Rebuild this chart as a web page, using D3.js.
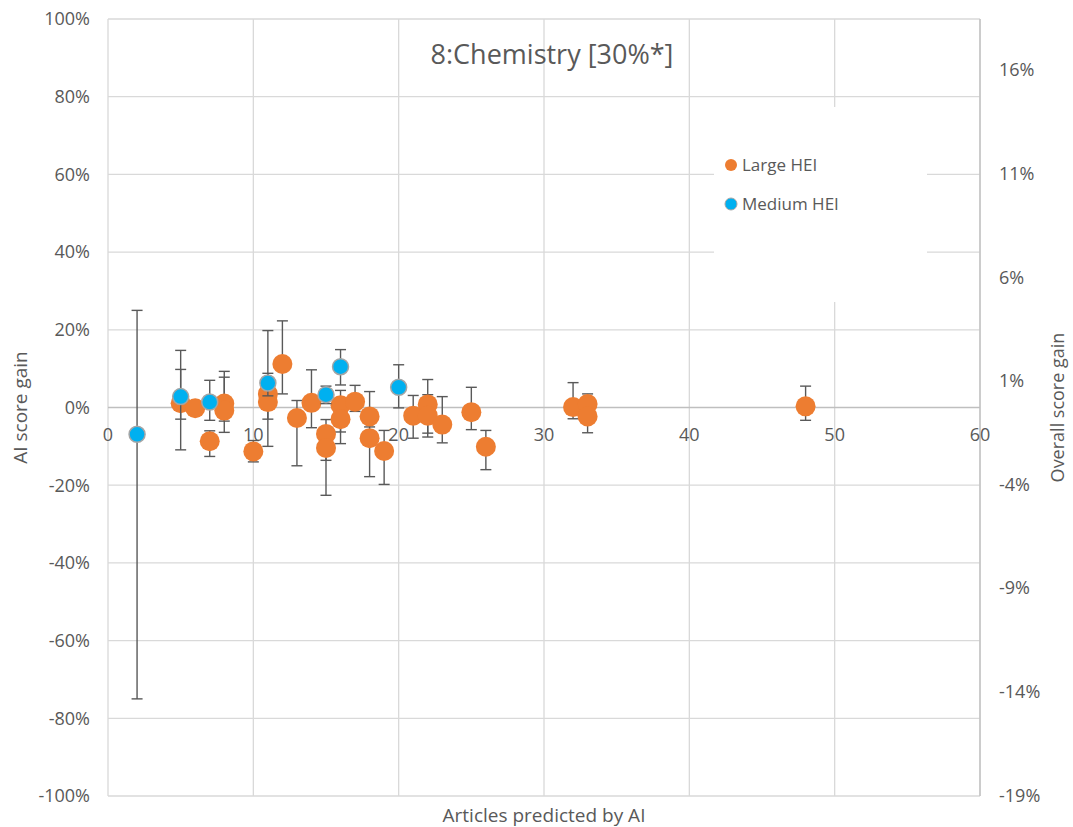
<!DOCTYPE html>
<html>
<head>
<meta charset="utf-8">
<script src="https://cdn.jsdelivr.net/npm/d3@7"></script>
<style>
  body { margin: 0; background: #fff; }
  text { font-family: "Open Sans", sans-serif; fill: #595959; }
</style>
</head>
<body>
<div id="chart"></div>
<script>
// --- Data ---
const largeX  = [5, 6, 7, 8, 8, 10, 11, 11, 12, 13, 14, 15, 15, 16, 16, 17, 18, 18, 19, 21, 22, 22, 23, 25, 26, 32, 33, 33, 48];
const largeY  = [1.1, -0.2, -8.7, 1.0, -0.8, -11.3, 3.5, 1.4, 11.2, -2.7, 1.2, -6.8, -10.4, 0.6, -3.0, 1.5, -2.3, -7.9, -11.2, -2.1, 0.8, -2.1, -4.4, -1.2, -10.1, 0.1, 0.9, -2.3, 0.3];
const largeLo = [-10.9, null, -12.6, -3.5, -6.4, -14, -3, -10, 3.5, -15, -5.2, -13.6, -22.6, -6.3, -9.3, -1, -5, -17.8, -19.8, -7.9, -6.6, -7.6, -9.1, -5.7, -16, -2.9, -3, -6.5, -3.3];
const largeHi = [9.8, null, -6, 9.3, 7.8, -8.5, 8.8, 5, 22.3, 1.8, 9.7, -3.1, -5, 4.4, 1, 5.7, 4.1, -3, -5.9, 3.1, 7.2, 3.3, 2.8, 5.2, -5.9, 6.4, 3.5, 1, 5.5];

const mediumX  = [2, 5, 7, 11, 15, 16, 20];
const mediumY  = [-6.9, 2.8, 1.4, 6.3, 3.3, 10.5, 5.2];
const mediumLo = [-75, -3, -3.3, 3, 1, 5.8, -0.1];
const mediumHi = [25, 14.7, 7, 19.8, 5.5, 14.9, 11];

const leftTicks  = [-100, -80, -60, -40, -20, 0, 20, 40, 60, 80, 100];
const rightTicks = [-19, -14, -9, -4, 1, 6, 11, 16];
const xTicks     = [0, 10, 20, 30, 40, 50, 60];

const seriesNames = ["Large HEI", "Medium HEI"];
const colors = { large: "#ED7D31", medium: "#00B0F0" };

// --- Layout ---
const W = 1073, H = 827;
const plot = { left: 108, right: 980, top: 19, bottom: 796 };

const svg = d3.select("#chart").append("svg")
  .attr("width", W).attr("height", H);

const x = d3.scaleLinear().domain([0, 60]).range([plot.left, plot.right]);
const y = d3.scaleLinear().domain([-100, 100]).range([plot.bottom, plot.top]);
const y2 = d3.scaleLinear().domain([-19.03, 18.47]).range([plot.bottom, plot.top]);

// gridlines
svg.append("g").selectAll("line.h")
  .data(leftTicks.filter(d => d !== 0))
  .join("line")
  .attr("x1", plot.left).attr("x2", plot.right)
  .attr("y1", d => y(d)).attr("y2", d => y(d))
  .attr("stroke", "#d9d9d9").attr("stroke-width", 1.3);

svg.append("g").selectAll("line.v")
  .data(xTicks)
  .join("line")
  .attr("x1", d => x(d)).attr("x2", d => x(d))
  .attr("y1", plot.top).attr("y2", plot.bottom)
  .attr("stroke", "#d9d9d9").attr("stroke-width", 1.3);

// right axis line
svg.append("line")
  .attr("x1", plot.right).attr("x2", plot.right)
  .attr("y1", plot.top).attr("y2", plot.bottom)
  .attr("stroke", "#bfbfbf").attr("stroke-width", 1.3);

// zero line (x axis)
svg.append("line")
  .attr("x1", plot.left).attr("x2", plot.right)
  .attr("y1", y(0)).attr("y2", y(0))
  .attr("stroke", "#bfbfbf").attr("stroke-width", 1.3);

// legend background (covers gridlines)
svg.append("rect")
  .attr("x", 714).attr("y", 107)
  .attr("width", 213).attr("height", 195)
  .attr("fill", "#fff");

// left tick labels
svg.append("g").selectAll("text")
  .data(leftTicks)
  .join("text")
  .attr("x", 90).attr("y", d => y(d))
  .attr("text-anchor", "end").attr("dy", "0.35em")
  .attr("font-size", 18)
  .text(d => d + "%");

// right tick labels
svg.append("g").selectAll("text")
  .data(rightTicks)
  .join("text")
  .attr("x", 999).attr("y", d => y2(d))
  .attr("text-anchor", "start").attr("dy", "0.35em")
  .attr("font-size", 18)
  .text(d => d + "%");

// x tick labels (sit below zero line)
svg.append("g").selectAll("text")
  .data(xTicks)
  .join("text")
  .attr("x", d => x(d)).attr("y", y(0) + 27)
  .attr("text-anchor", "middle").attr("dy", "0.35em")
  .attr("font-size", 18)
  .text(d => d);

// axis titles
svg.append("text")
  .attr("transform", `translate(20,${y(0)}) rotate(-90)`)
  .attr("text-anchor", "middle").attr("dy", "0.35em")
  .attr("font-size", 19)
  .text("AI score gain");

svg.append("text")
  .attr("transform", `translate(1059,${y(0)}) rotate(-90)`)
  .attr("text-anchor", "middle").attr("dy", "0.3em")
  .attr("font-size", 18)
  .text("Overall score gain");

svg.append("text")
  .attr("x", (plot.left + plot.right) / 2).attr("y", 815)
  .attr("text-anchor", "middle").attr("dy", "0.35em")
  .attr("font-size", 19)
  .text("Articles predicted by AI");

// title
svg.append("text")
  .attr("x", 552).attr("y", 55)
  .attr("text-anchor", "middle").attr("dy", "0.35em")
  .attr("font-size", 27)
  .text("8:Chemistry [30%*]");

// --- Series drawing ---
function drawSeries(xs, ys, los, his, fill, stroke, r) {
  const pts = xs.map((d, i) => ({ x: d, y: ys[i], lo: los[i], hi: his[i] }));
  const g = svg.append("g");
  const withErr = pts.filter(d => d.lo != null);
  const cap = 5.5;
  g.selectAll("line.err").data(withErr).join("line")
    .attr("x1", d => x(d.x)).attr("x2", d => x(d.x))
    .attr("y1", d => y(d.lo)).attr("y2", d => y(d.hi))
    .attr("stroke", "#595959").attr("stroke-width", 1.4);
  ["lo", "hi"].forEach(k => {
    g.selectAll("line.cap" + k).data(withErr).join("line")
      .attr("x1", d => x(d.x) - cap).attr("x2", d => x(d.x) + cap)
      .attr("y1", d => y(d[k])).attr("y2", d => y(d[k]))
      .attr("stroke", "#595959").attr("stroke-width", 1.4);
  });
  g.selectAll("circle").data(pts).join("circle")
    .attr("cx", d => x(d.x)).attr("cy", d => y(d.y))
    .attr("r", r)
    .attr("fill", fill)
    .attr("stroke", stroke).attr("stroke-width", stroke === "none" ? 0 : 1.5);
}

drawSeries(largeX, largeY, largeLo, largeHi, colors.large, "none", 10);
drawSeries(mediumX, mediumY, mediumLo, mediumHi, colors.medium, "#a5a5a5", 8);

// legend
const legend = svg.append("g");
const legendColors = [colors.large, colors.medium];
seriesNames.forEach((name, i) => {
  const ly = 165 + i * 39;
  legend.append("circle")
    .attr("cx", 731).attr("cy", ly).attr("r", 6)
    .attr("fill", legendColors[i])
    .attr("stroke", i === 1 ? "#a5a5a5" : "none").attr("stroke-width", 1);
  legend.append("text")
    .attr("x", 742).attr("y", ly).attr("dy", "0.35em")
    .attr("font-size", 17)
    .text(name);
});
</script>
</body>
</html>
